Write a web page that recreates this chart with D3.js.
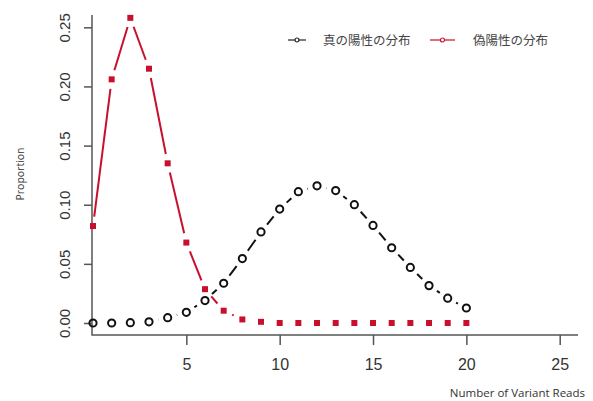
<!DOCTYPE html>
<html>
<head>
<meta charset="utf-8">
<script src="https://cdn.jsdelivr.net/npm/d3@7"></script>
<style>
  body { margin: 0; background: #fff; }
  svg { display: block; }
</style>
</head>
<body>
<script>
// donnees
var reads = d3.range(0, 21);
var trueProp = [0.000, 0.000, 0.0003, 0.001, 0.0045, 0.009, 0.019, 0.0336, 0.0545, 0.077, 0.0963,
                0.111, 0.116, 0.112, 0.100, 0.0825, 0.0636, 0.047, 0.0316, 0.021, 0.0127];
var falseProp = [0.082, 0.206, 0.258, 0.215, 0.135, 0.068, 0.0286, 0.0104, 0.003, 0.001, 0.000,
                 0.000, 0.000, 0.000, 0.000, 0.000, 0.000, 0.000, 0.000, 0.000, 0.000];
var xTicks = [5, 10, 15, 20, 25];
var yTicks = [0, 0.05, 0.10, 0.15, 0.20, 0.25];
var seriesNames = ["真の陽性の分布", "偽陽性の分布"];

var W = 593, H = 401;
var svg = d3.select("body").append("svg")
    .attr("width", W)
    .attr("height", H);

// echelles
var x = d3.scaleLinear().domain([0, 25]).range([93, 559.7]);
var y = d3.scaleLinear().domain([0, 0.25]).range([323, 27.3]);

var axisCol = "#555";
var red = "#c8102e";

// boite en L (bty="l")
var xMin = x.invert(92), xMax = x.invert(578);
var yMin = y.invert(335), yMax = y.invert(15);
svg.append("path")
    .attr("d", "M" + x(xMin) + "," + y(yMax) + "V" + y(yMin) + "H" + x(xMax))
    .attr("fill", "none")
    .attr("stroke", axisCol)
    .attr("stroke-width", 1.5);

// axe x
var gx = svg.append("g")
    .attr("transform", "translate(0," + y(yMin) + ")")
    .call(d3.axisBottom(x).tickValues(xTicks).tickSize(10).tickPadding(14).tickFormat(d3.format("d")));
gx.select(".domain").remove();
gx.selectAll("line").attr("stroke", axisCol).attr("stroke-width", 1.5);
gx.selectAll("text").attr("font-family", "Liberation Sans, Arial, sans-serif")
    .attr("font-size", 16).attr("fill", "#333");

// axe y (etiquettes paralleles a l'axe)
var gy = svg.append("g")
    .attr("transform", "translate(" + x(xMin) + ",0)")
    .call(d3.axisLeft(y).tickValues(yTicks).tickSize(8).tickFormat(d3.format(".2f")));
gy.select(".domain").remove();
gy.selectAll("line").attr("stroke", axisCol).attr("stroke-width", 1.5);
gy.selectAll("text")
    .attr("font-family", "Liberation Sans, Arial, sans-serif")
    .attr("font-size", 15).attr("fill", "#333")
    .attr("text-anchor", "middle")
    .attr("x", 0).attr("y", -22).attr("dy", 0)
    .attr("transform", "rotate(-90)");

// titres des axes
svg.append("text")
    .attr("transform", "translate(24,174) rotate(-90)")
    .attr("text-anchor", "middle")
    .attr("font-family", "Open Sans, sans-serif")
    .attr("font-size", 10.5)
    .attr("fill", "#333")
    .text("Proportion");

svg.append("text")
    .attr("x", 585).attr("y", 397)
    .attr("text-anchor", "end")
    .attr("font-family", "Open Sans, sans-serif")
    .attr("font-size", 11.5)
    .attr("fill", "#333")
    .text("Number of Variant Reads");

// segments type="b" : lignes interrompues autour des points
function gapSegments(vals, gap) {
  var segs = [];
  for (var i = 0; i < vals.length - 1; i++) {
    var x0 = x(reads[i]), y0 = y(vals[i]), x1 = x(reads[i + 1]), y1 = y(vals[i + 1]);
    var dx = x1 - x0, dy = y1 - y0, len = Math.sqrt(dx * dx + dy * dy);
    if (len <= 2 * gap) continue;
    var ux = dx / len, uy = dy / len;
    segs.push([x0 + ux * gap, y0 + uy * gap, x1 - ux * gap, y1 - uy * gap]);
  }
  return segs;
}

svg.append("g").selectAll("line")
    .data(gapSegments(falseProp, 9.5))
    .enter().append("line")
    .attr("x1", function(d) { return d[0]; }).attr("y1", function(d) { return d[1]; })
    .attr("x2", function(d) { return d[2]; }).attr("y2", function(d) { return d[3]; })
    .attr("stroke", red).attr("stroke-width", 2);

svg.append("g").selectAll("line")
    .data(gapSegments(trueProp, 9.5))
    .enter().append("line")
    .attr("x1", function(d) { return d[0]; }).attr("y1", function(d) { return d[1]; })
    .attr("x2", function(d) { return d[2]; }).attr("y2", function(d) { return d[3]; })
    .attr("stroke", "#111").attr("stroke-width", 2);

// points
svg.append("g").selectAll("rect")
    .data(falseProp)
    .enter().append("rect")
    .attr("x", function(d, i) { return x(reads[i]) - 3; })
    .attr("y", function(d) { return y(d) - 3; })
    .attr("width", 6).attr("height", 6)
    .attr("fill", red);

svg.append("g").selectAll("circle")
    .data(trueProp)
    .enter().append("circle")
    .attr("cx", function(d, i) { return x(reads[i]); })
    .attr("cy", function(d) { return y(d); })
    .attr("r", 3.6)
    .attr("fill", "none")
    .attr("stroke", "#111")
    .attr("stroke-width", 2);

// legende
var legX = [288, 430];
var legCol = ["#222", red];
var leg = svg.append("g").selectAll("g")
    .data(seriesNames)
    .enter().append("g")
    .attr("transform", function(d, i) { return "translate(" + legX[i] + ",40)"; });
leg.append("line")
    .attr("x1", 0).attr("x2", function(d, i) { return i ? 25 : 18; })
    .attr("stroke", function(d, i) { return legCol[i]; })
    .attr("stroke-width", 1.2);
leg.append("circle")
    .attr("cx", function(d, i) { return i ? 12.5 : 9; })
    .attr("r", 2)
    .attr("fill", "#fff")
    .attr("stroke", function(d, i) { return legCol[i]; })
    .attr("stroke-width", 1.2);
leg.append("text")
    .attr("x", function(d, i) { return i ? 43 : 35; })
    .attr("y", 5)
    .attr("font-family", "Noto Sans CJK JP, sans-serif")
    .attr("font-size", 12.5)
    .attr("fill", "#444")
    .text(function(d) { return d; });
</script>
</body>
</html>
